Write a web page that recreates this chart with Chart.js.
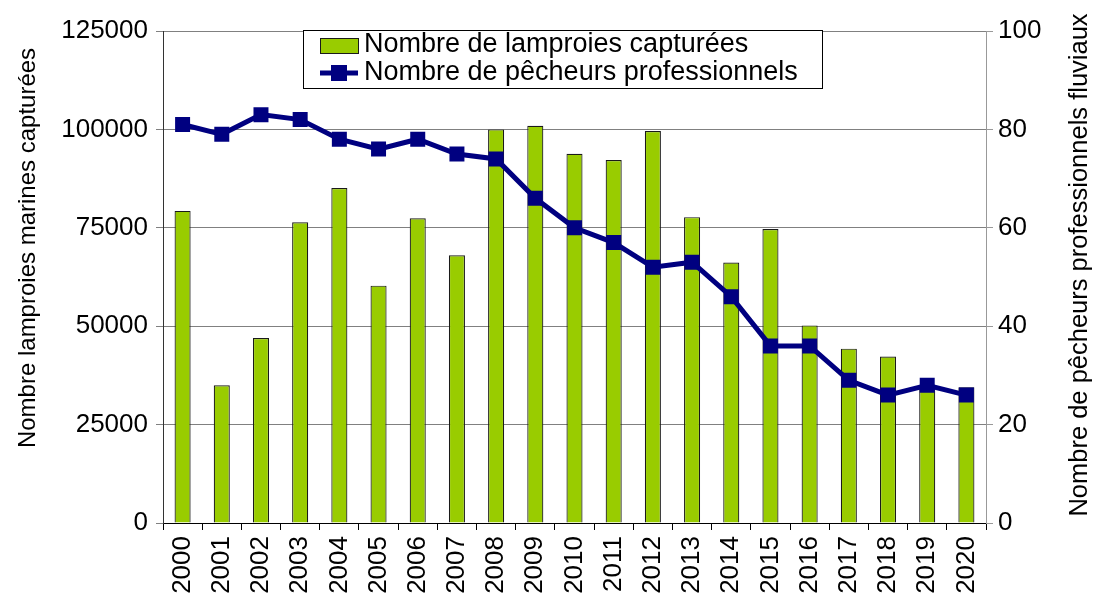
<!DOCTYPE html>
<html>
<head>
<meta charset="utf-8">
<script src="https://cdn.jsdelivr.net/npm/chart.js@4.4.0/dist/chart.umd.min.js"></script>
<style>
  html, body { margin: 0; padding: 0; background: #ffffff; }
  canvas { display: block; }
</style>
</head>
<body>
<canvas id="chart" width="1098" height="595"></canvas>
<script>
// Years on the category axis
const years = ['2000','2001','2002','2003','2004','2005','2006','2007','2008','2009','2010',
               '2011','2012','2013','2014','2015','2016','2017','2018','2019','2020'];
// Sea lampreys caught per year (left axis)
const lampreys = [79300, 35000, 47000, 76400, 85100, 60300, 77400, 68000, 100000, 100900, 93800,
                  92200, 99600, 77700, 66200, 74700, 50200, 44300, 42300, 35000, 34500];
// Professional river fishermen per year (right axis)
const fishers = [81, 79, 83, 82, 78, 76, 78, 75, 74, 66, 60, 57, 52, 53, 46, 36, 36, 29, 26, 28, 26];
// Tick values for each value axis
const leftTicks = [0, 25000, 50000, 75000, 100000, 125000];
const rightTicks = [0, 20, 40, 60, 80, 100];
// Series and axis labels
const seriesNames = ['Nombre de lamproies capturées', 'Nombre de pêcheurs professionnels'];
const axisTitles = ['Nombre lamproies marines capturées', 'Nombre de pêcheurs professionnels fluviaux'];

const FONT = '"Liberation Sans", Arial, sans-serif';
const GREEN = '#99cc00';
const NAVY = '#000080';

// Boxed legend in the upper part of the plot, plus the two rotated axis titles
const decorations = {
  id: 'decorations',
  afterDraw(chart) {
    const ctx = chart.ctx;
    const ds = chart.data.datasets;
    ctx.save();
    // legend frame
    const x0 = 303, y0 = 30, w = 519, h = 58;
    ctx.fillStyle = '#ffffff';
    ctx.fillRect(x0, y0, w, h);
    ctx.strokeStyle = '#000000';
    ctx.lineWidth = 1;
    ctx.strokeRect(x0 + 0.5, y0 + 0.5, w, h);
    // bar swatch
    ctx.fillStyle = ds[0].backgroundColor;
    ctx.fillRect(320, 38, 38, 15);
    ctx.strokeStyle = '#1a1a1a';
    ctx.strokeRect(320.5, 38.5, 38, 15);
    // line swatch
    ctx.strokeStyle = ds[1].borderColor;
    ctx.lineWidth = 5;
    ctx.beginPath();
    ctx.moveTo(320, 73);
    ctx.lineTo(358, 73);
    ctx.stroke();
    ctx.fillStyle = ds[1].borderColor;
    ctx.fillRect(331, 65, 16, 16);
    // legend texts
    ctx.fillStyle = '#000000';
    ctx.font = '27px ' + FONT;
    ctx.textAlign = 'left';
    ctx.textBaseline = 'middle';
    ctx.fillText(ds[0].label, 364, 45);
    ctx.fillText(ds[1].label, 364, 73);
    // axis titles
    ctx.textAlign = 'center';
    ctx.save();
    ctx.font = '24px ' + FONT;
    ctx.translate(28, 248);
    ctx.rotate(-Math.PI / 2);
    ctx.fillText(axisTitles[0], 0, 0);
    ctx.restore();
    ctx.save();
    ctx.font = '25.5px ' + FONT;
    ctx.translate(1080, 265);
    ctx.rotate(-Math.PI / 2);
    ctx.fillText(axisTitles[1], 0, 0);
    ctx.restore();
    ctx.restore();
  }
};

const whiteBackground = {
  id: 'whiteBackground',
  beforeDraw(chart) {
    const ctx = chart.ctx;
    ctx.save();
    ctx.fillStyle = '#ffffff';
    ctx.fillRect(0, 0, chart.width, chart.height);
    ctx.restore();
  }
};

new Chart(document.getElementById('chart'), {
  type: 'bar',
  data: {
    labels: years,
    datasets: [
      {
        type: 'bar',
        label: seriesNames[0],
        data: lampreys,
        yAxisID: 'y',
        backgroundColor: GREEN,
        borderColor: '#1a1a1a',
        borderWidth: 1.2,
        categoryPercentage: 1,
        barPercentage: 0.41,
        order: 2
      },
      {
        type: 'line',
        label: seriesNames[1],
        data: fishers,
        yAxisID: 'y1',
        borderColor: NAVY,
        backgroundColor: NAVY,
        borderWidth: 5,
        tension: 0,
        pointStyle: 'rect',
        pointRadius: 10.6,
        pointBorderWidth: 0,
        pointBackgroundColor: NAVY,
        order: 1
      }
    ]
  },
  options: {
    responsive: false,
    animation: false,
    events: [],
    layout: { padding: { top: 31, left: 0, right: 0, bottom: 0 } },
    plugins: {
      legend: { display: false },
      tooltip: { enabled: false },
      title: { display: false }
    },
    scales: {
      x: {
        type: 'category',
        offset: true,
        grid: { offset: true, drawOnChartArea: false, tickLength: 7, color: '#000000', lineWidth: 1 },
        border: { color: '#000000', width: 1 },
        ticks: {
          autoSkip: false, minRotation: 90, maxRotation: 90, padding: 6,
          color: '#000000', font: { family: FONT, size: 26 }
        },
        afterFit(s) { s.height = 72; }
      },
      y: {
        position: 'left',
        min: 0, max: 125000,
        afterBuildTicks(s) { s.ticks = leftTicks.map(v => ({ value: v })); },
        grid: { color: '#808080', tickLength: 7, lineWidth: 1 },
        border: { color: '#333333', width: 1 },
        ticks: {
          padding: 8, color: '#000000', font: { family: FONT, size: 26 },
          callback: v => String(v)
        },
        afterFit(s) { s.width = 163; }
      },
      y1: {
        position: 'right',
        min: 0, max: 100,
        afterBuildTicks(s) { s.ticks = rightTicks.map(v => ({ value: v })); },
        grid: { drawOnChartArea: false, color: '#999999', tickLength: 7, lineWidth: 1 },
        border: { color: '#999999', width: 1 },
        ticks: {
          padding: 5, color: '#000000', font: { family: FONT, size: 26 },
          callback: v => String(v)
        },
        afterFit(s) { s.width = 112; }
      }
    }
  },
  plugins: [whiteBackground, decorations]
});
</script>
</body>
</html>
